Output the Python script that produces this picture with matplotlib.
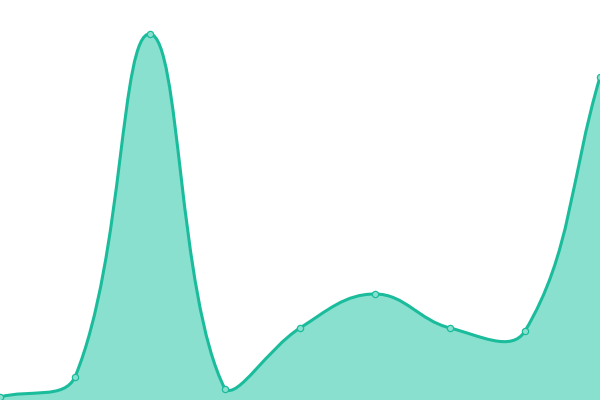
import numpy as np
import matplotlib
matplotlib.use('Agg')
import matplotlib.pyplot as plt
from matplotlib.path import Path
from matplotlib.patches import PathPatch

# data (one point every step along x)
xs = [0, 75, 150, 225, 300, 375, 450, 525, 600]
ys = [3, 23, 366, 11, 72, 106, 72, 69, 323]

line_col = '#1abc9c'
fill_col = '#8ae0cf'
tension = 0.4
xlim = (0, 600)
ylim = (0, 400)

pts = np.column_stack([xs, ys]).astype(float)
n = len(pts)

# bezier control points like a spline with tension, kept inside the plot area
ctrl_prev = np.zeros_like(pts)
ctrl_next = np.zeros_like(pts)
for i in range(n):
    cur = pts[i]
    prv = pts[i - 1] if i > 0 else cur
    nxt = pts[i + 1] if i < n - 1 else cur
    d01 = np.hypot(*(cur - prv))
    d12 = np.hypot(*(nxt - cur))
    tot = d01 + d12
    s01 = d01 / tot if tot else 0
    s12 = d12 / tot if tot else 0
    ctrl_prev[i] = cur - tension * s01 * (nxt - prv)
    ctrl_next[i] = cur + tension * s12 * (nxt - prv)
for c in (ctrl_prev, ctrl_next):
    c[:, 0] = np.clip(c[:, 0], *xlim)
    c[:, 1] = np.clip(c[:, 1], *ylim)

verts = [tuple(pts[0])]
codes = [Path.MOVETO]
for i in range(n - 1):
    verts += [tuple(ctrl_next[i]), tuple(ctrl_prev[i + 1]), tuple(pts[i + 1])]
    codes += [Path.CURVE4] * 3

line_path = Path(verts, codes)
fill_path = Path(verts + [(xs[-1], 0), (xs[0], 0), verts[0]],
                 codes + [Path.LINETO, Path.LINETO, Path.CLOSEPOLY])

fig = plt.figure(figsize=(6, 4), dpi=100)
ax = fig.add_axes([0, 0, 1, 1])
ax.add_patch(PathPatch(fill_path, facecolor=fill_col, edgecolor='none'))
ax.add_patch(PathPatch(line_path, facecolor='none', edgecolor=line_col, lw=2.2, capstyle='round'))
ax.plot(xs, ys, 'o', ms=4.5, mfc=fill_col, mec=line_col, mew=0.9, clip_on=False)
ax.set_xlim(*xlim)
ax.set_ylim(*ylim)
ax.axis('off')
fig.savefig('out.png')
